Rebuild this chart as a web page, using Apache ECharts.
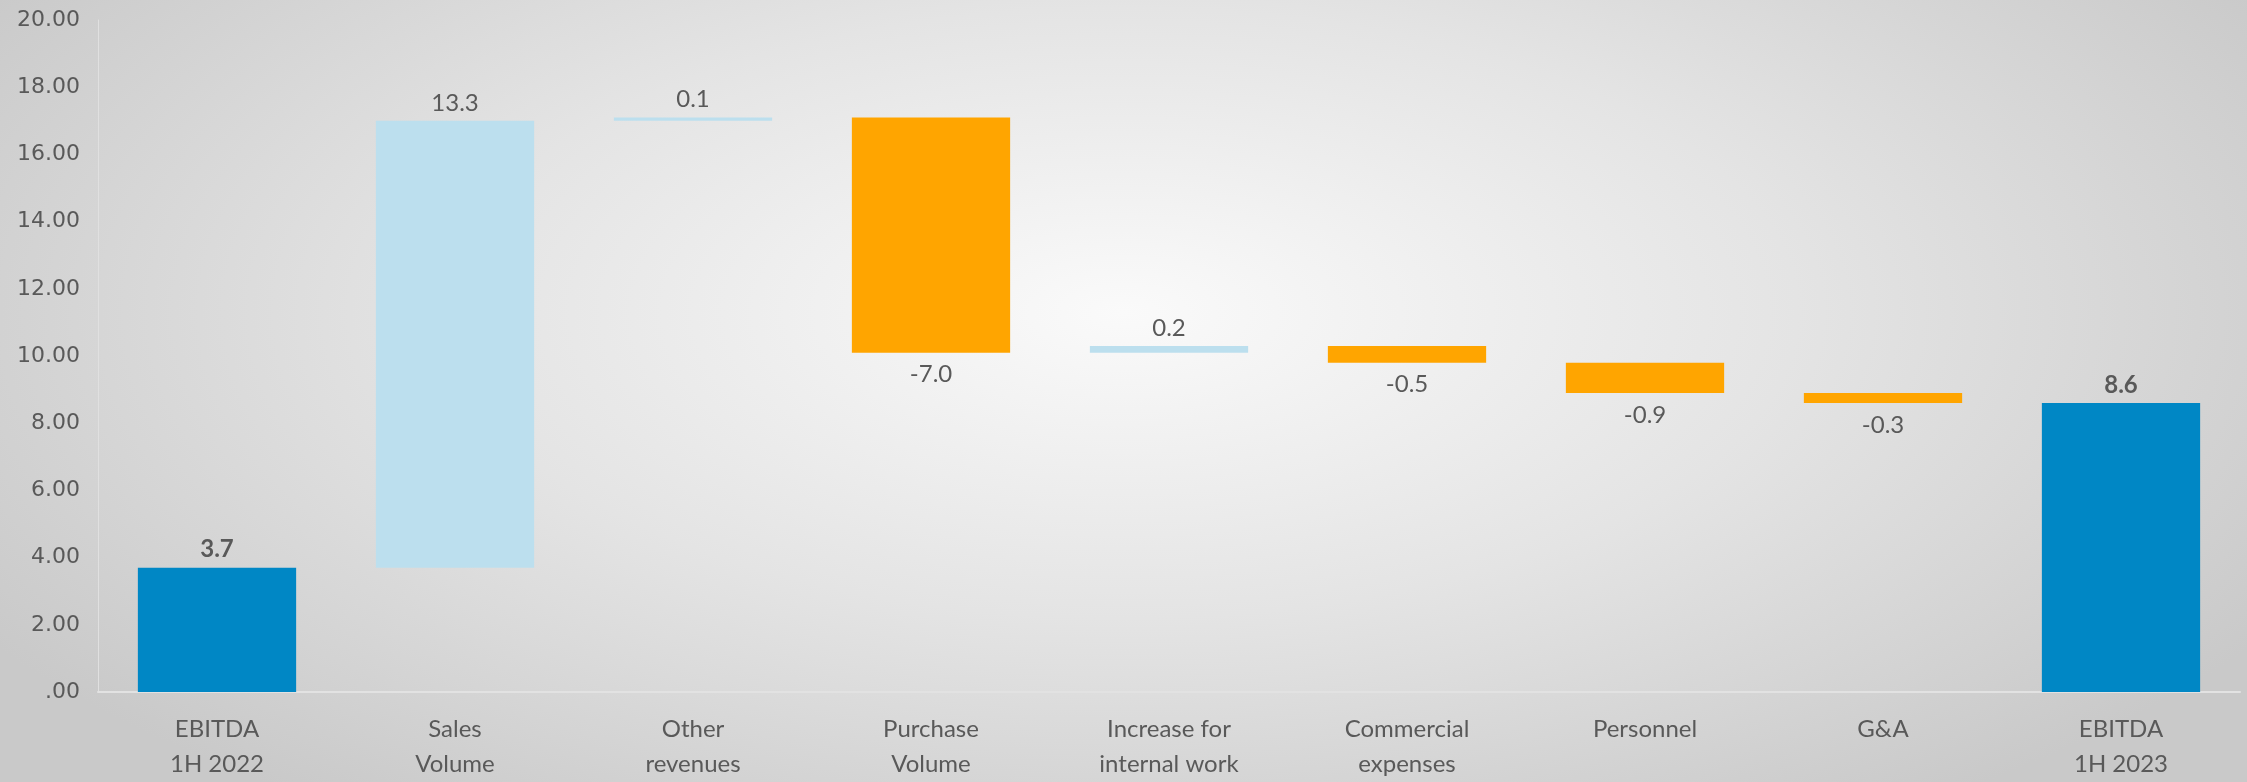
<!DOCTYPE html>
<html>
<head>
<meta charset="utf-8">
<script src="https://cdn.jsdelivr.net/npm/echarts@6/dist/echarts.min.js"></script>
<style>
  html, body { margin: 0; padding: 0; }
  #chart {
    width: 2247px;
    height: 782px;
    background: radial-gradient(ellipse 60% 78% at 50% 40%, #fafafa 0%, #e4e4e4 50%, #c9c9c9 100%);
  }
</style>
</head>
<body>
<div id="chart"></div>
<script>
// categories and changes (first and last are totals)
const categories = [
  'EBITDA\n1H 2022', 'Sales\nVolume', 'Other\nrevenues', 'Purchase\nVolume',
  'Increase for\ninternal work', 'Commercial\nexpenses', 'Personnel', 'G&A', 'EBITDA\n1H 2023'
]
const values = [3.7, 13.3, 0.1, -7.0, 0.2, -0.5, -0.9, -0.3, 8.6]
const isTotal = [true, false, false, false, false, false, false, false, true]
const yTicks = [0, 2, 4, 6, 8, 10, 12, 14, 16, 18, 20]

const totalColor = '#0087c5'
const upColor = '#bcdfee'
const downColor = '#ffa500'
const textColor = '#595959'

// invisible base for waterfall, from running total
const baseData = []
const barData = []
let running = 0
values.forEach((v, i) => {
  if (isTotal[i]) {
    baseData.push(0)
    running = v
  } else if (v >= 0) {
    baseData.push(running)
    running += v
  } else {
    running += v
    baseData.push(running)
  }
  const color = isTotal[i] ? totalColor : (v >= 0 ? upColor : downColor)
  barData.push({
    value: Math.abs(v),
    itemStyle: { color: color },
    label: {
      position: v >= 0 ? 'top' : 'bottom',
      fontWeight: isTotal[i] ? 'bold' : 'normal',
      distance: v >= 0 ? 6 : 10,
      formatter: v.toFixed(1)
    }
  })
})

const chart = echarts.init(document.getElementById('chart'))
chart.setOption({
  animation: false,
  grid: { left: 98, right: 7, top: 20, bottom: 87, containLabel: false },
  xAxis: {
    type: 'category',
    data: categories,
    axisLine: { lineStyle: { color: '#e2e2e2', width: 2 } },
    axisTick: { show: false },
    axisLabel: {
      color: textColor,
      fontFamily: 'Lato',
      fontSize: 24,
      lineHeight: 35,
      margin: 20,
      interval: 0
    }
  },
  yAxis: {
    type: 'value',
    min: yTicks[0],
    max: yTicks[yTicks.length - 1],
    interval: 2,
    splitLine: { show: false },
    axisLine: { show: true, lineStyle: { color: '#e0e0e0', width: 1 } },
    axisTick: { show: false },
    axisLabel: {
      color: textColor,
      fontFamily: 'DejaVu Sans',
      fontSize: 22,
      margin: 18,
      formatter: (v) => (v === 0 ? '.00' : v.toFixed(2))
    }
  },
  series: [
    {
      type: 'bar',
      stack: 'wf',
      data: baseData,
      itemStyle: { color: 'transparent' },
      emphasis: { disabled: true },
      barCategoryGap: '33.5%'
    },
    {
      type: 'bar',
      stack: 'wf',
      data: barData,
      barCategoryGap: '33.5%',
      label: {
        show: true,
        color: textColor,
        fontFamily: 'Lato',
        fontSize: 24
      }
    }
  ]
})
</script>
</body>
</html>
